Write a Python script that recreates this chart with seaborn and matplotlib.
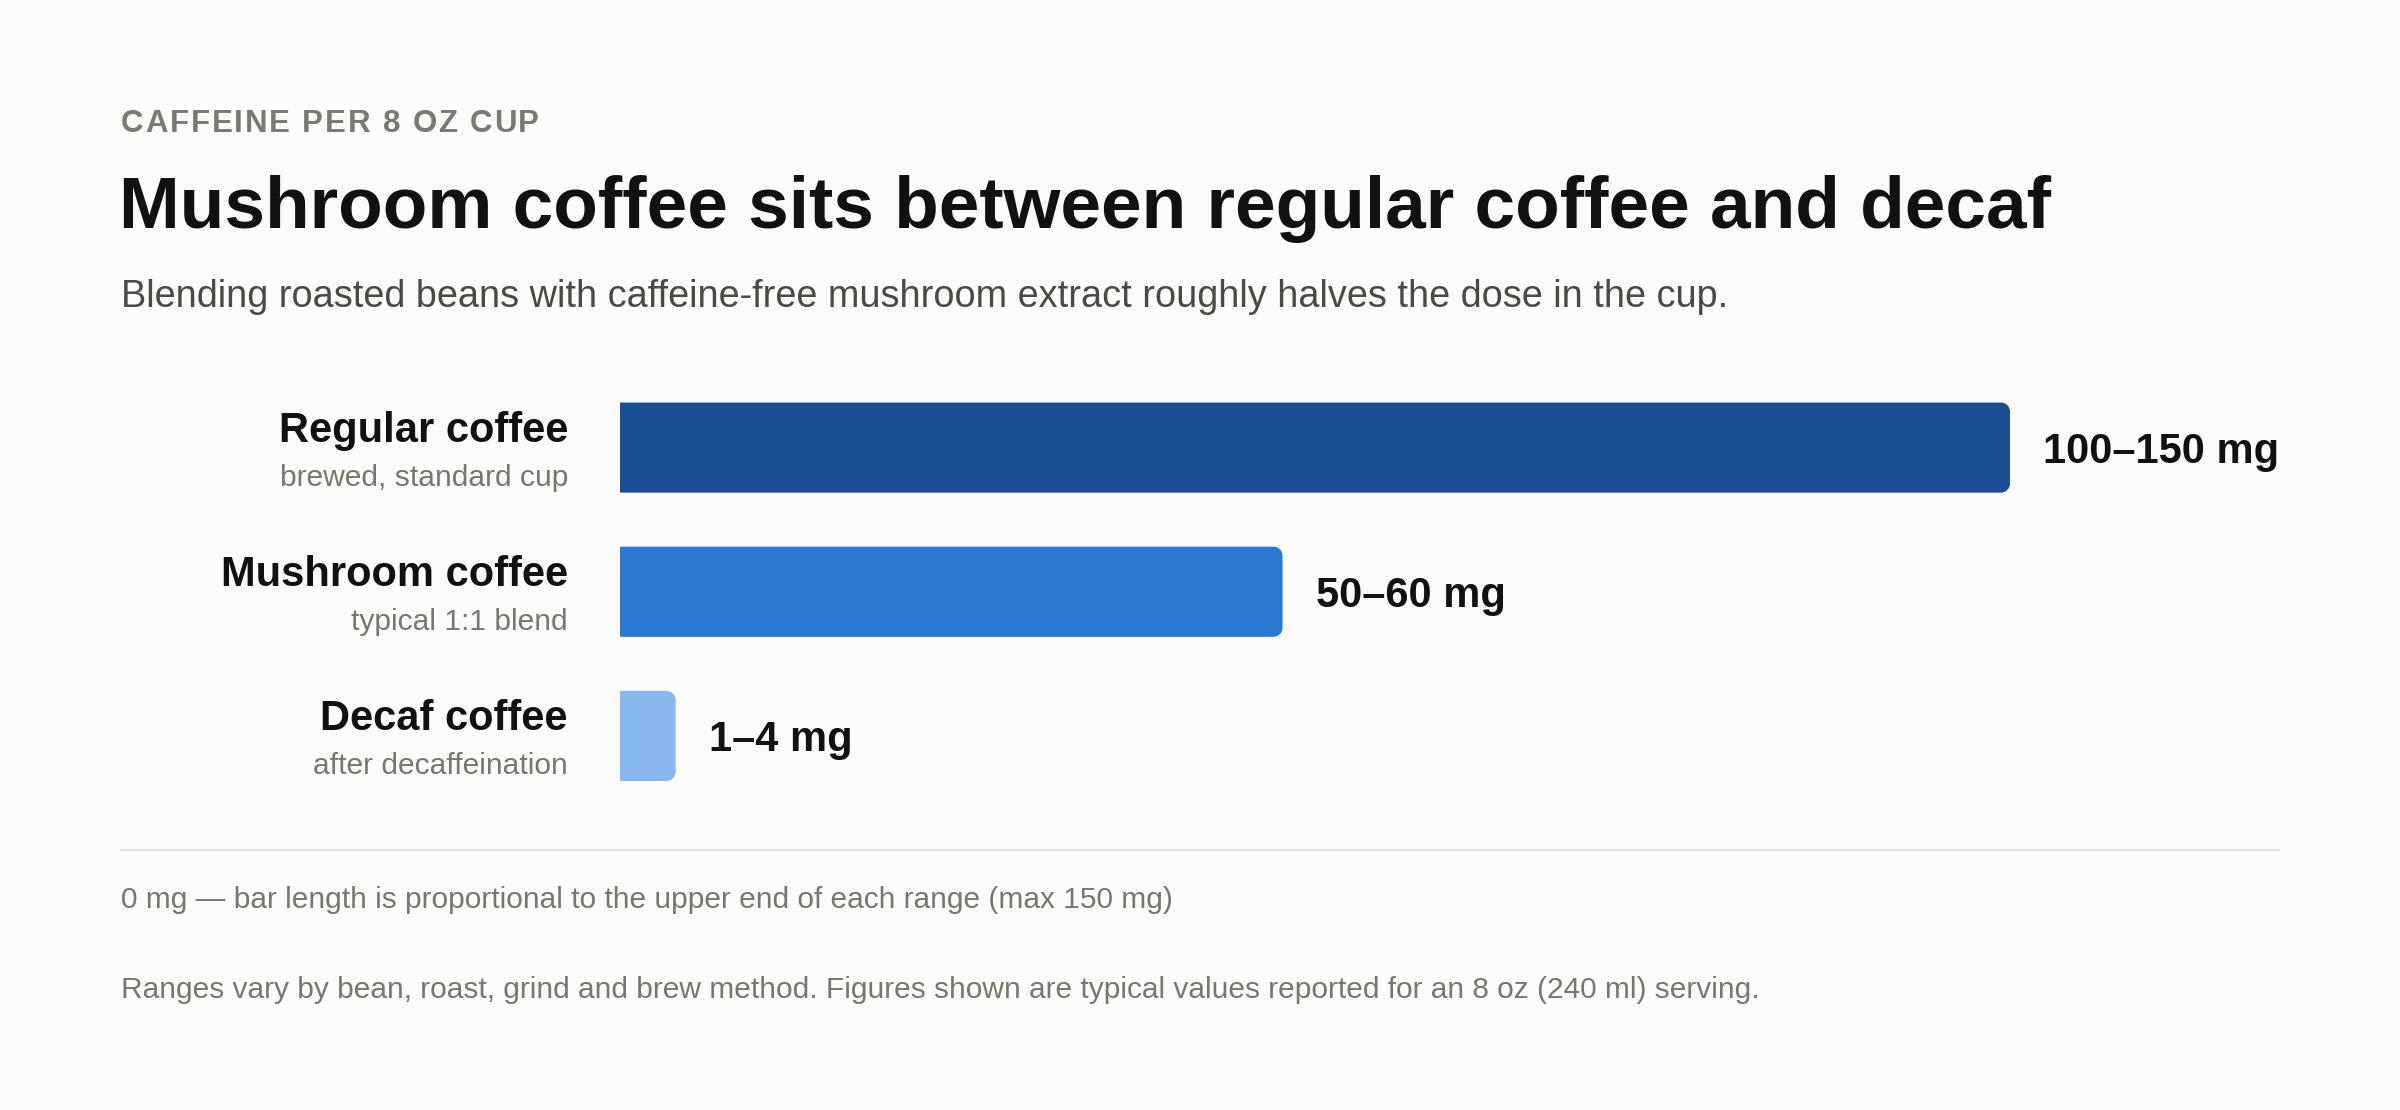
import matplotlib
matplotlib.use("Agg")
import matplotlib.pyplot as plt
import matplotlib.transforms as mtransforms
from matplotlib.path import Path
from matplotlib.patches import PathPatch
import seaborn as sns
import pandas as pd

# ---------------- data ----------------
categories = ["Regular coffee", "Mushroom coffee", "Decaf coffee"]
sublabels = ["brewed, standard cup", "typical 1:1 blend", "after decaffeination"]
bar_mg = [150, 71.5, 6]          # bar lengths as drawn (mg scale, max 150)
value_labels = ["100\u2013150 mg", "50\u201360 mg", "1\u20134 mg"]
bar_colors = ["#1b4f93", "#2a78d4", "#88b6ef"]

kicker = "CAFFEINE PER 8 OZ CUP"
title = "Mushroom coffee sits between regular coffee and decaf"
subtitle = "Blending roasted beans with caffeine-free mushroom extract roughly halves the dose in the cup."
foot1 = "0 mg \u2014 bar length is proportional to the upper end of each range (max 150 mg)"
foot2 = "Ranges vary by bean, roast, grind and brew method. Figures shown are typical values reported for an 8 oz (240 ml) serving."

# ---------------- style ----------------
sns.set_style("white")
plt.rcParams["font.family"] = ["Liberation Sans", "DejaVu Sans"]
BG = "#fbfbf9"
W, H = 2400, 1110

fig = plt.figure(figsize=(W / 100, H / 100), dpi=100, facecolor=BG)

def fx(px):
    return px / W

def fy(px_top):
    return 1 - px_top / H

# ---------------- bars ----------------
ax = fig.add_axes([fx(620), fy(808), 1390 / W, 432.5 / H])
ax.set_facecolor(BG)
df = pd.DataFrame({"cat": categories, "mg": bar_mg})
sns.barplot(data=df, x="mg", y="cat", hue="cat", palette=bar_colors,
            orient="h", width=0.625, legend=False, ax=ax, saturation=1)
ax.set_xlim(0, 150)
ax.set_ylim(2.5, -0.5)
ax.axis("off")

# rounded right corners
px_per_x = 1390 / 150
px_per_y = 432.5 / 3
r = 9
rx, ry = r / px_per_x, r / px_per_y
k = 0.5523
rects = list(ax.patches)
for p in rects:
    x0, y0 = p.get_x(), p.get_y()
    x1, y1 = x0 + p.get_width(), y0 + p.get_height()
    col = p.get_facecolor()
    p.remove()
    verts = [
        (x0, y0), (x1 - rx, y0),
        (x1 - rx + k * rx, y0), (x1, y0 + ry - k * ry), (x1, y0 + ry),
        (x1, y1 - ry),
        (x1, y1 - ry + k * ry), (x1 - rx + k * rx, y1), (x1 - rx, y1),
        (x0, y1), (x0, y0),
    ]
    codes = [Path.MOVETO, Path.LINETO,
             Path.CURVE4, Path.CURVE4, Path.CURVE4,
             Path.LINETO,
             Path.CURVE4, Path.CURVE4, Path.CURVE4,
             Path.LINETO, Path.CLOSEPOLY]
    ax.add_patch(PathPatch(Path(verts, codes), facecolor=col, edgecolor="none"))

# labels
lab_trans = mtransforms.blended_transform_factory(fig.transFigure, ax.transData)
main_t = mtransforms.offset_copy(lab_trans, fig=fig, x=0, y=6, units="dots")
sub_t = mtransforms.offset_copy(lab_trans, fig=fig, x=0, y=-38.5, units="dots")
val_t = mtransforms.offset_copy(ax.transData, fig=fig, x=33, y=-15, units="dots")
for i, (c, s, v, m) in enumerate(zip(categories, sublabels, value_labels, bar_mg)):
    ax.text(fx(568), i, c, transform=main_t, ha="right", va="baseline",
            fontsize=30, fontweight="bold", color="#111111")
    ax.text(fx(568), i, s, transform=sub_t, ha="right", va="baseline",
            fontsize=21.6, color="#77776f")
    ax.text(m, i, v, transform=val_t, ha="left", va="baseline",
            fontsize=30, fontweight="bold", color="#111111")

# ---------------- header ----------------
renderer = fig.canvas.get_renderer()

def adv(ch, **kw):
    t1 = fig.text(0, 0, "X" + ch + "X", **kw)
    t2 = fig.text(0, 0, "XX", **kw)
    w = t1.get_window_extent(renderer).width - t2.get_window_extent(renderer).width
    t1.remove(); t2.remove()
    return w

def tracked(x_px, y_px, text, track_px, **kw):
    x = x_px
    for ch in text:
        if ch != " ":
            fig.text(fx(x), fy(y_px), ch, va="baseline", ha="left", **kw)
        x += adv(ch, **kw) + track_px

tracked(121, 131.5, kicker, 1.8, fontsize=22.5, fontweight="bold", color="#7a7a72")
fig.text(fx(119), fy(228), title, fontsize=52.6, fontweight="bold", color="#111111",
         va="baseline", ha="left")
fig.text(fx(121), fy(307), subtitle, fontsize=27.3, color="#4a4a45",
         va="baseline", ha="left")

# ---------------- footer ----------------
fig.add_artist(plt.Line2D([fx(121), fx(2279)], [fy(850), fy(850)],
                          color="#e3e3de", lw=1.5, transform=fig.transFigure))
fig.text(fx(121), fy(908), foot1, fontsize=21.5, color="#77776f", va="baseline", ha="left")
fig.text(fx(121), fy(998), foot2, fontsize=21.5, color="#77776f", va="baseline", ha="left")

fig.savefig("out.png", dpi=100, facecolor=BG)
